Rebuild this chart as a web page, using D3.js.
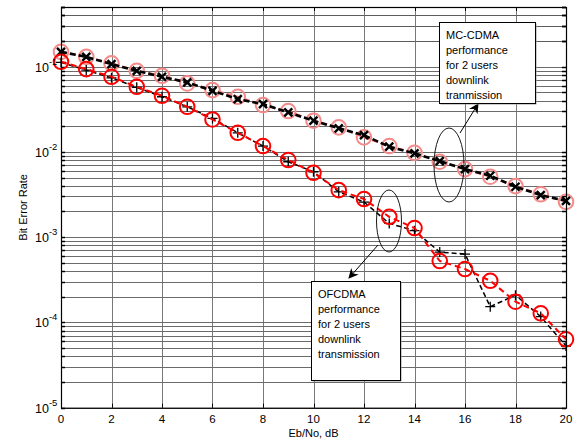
<!DOCTYPE html>
<html>
<head>
<meta charset="utf-8">
<script src="https://cdn.jsdelivr.net/npm/d3@7"></script>
<style>
  body { margin: 0; background: #fff; }
  svg { display: block; font-family: "Liberation Sans", Arial, sans-serif; }
</style>
</head>
<body>
<div id="chart"></div>
<script>
// Eb/No values (dB)
const ebno = d3.range(0, 21)

// MC-CDMA, 2 users downlink (pink circles + black x)
const mcTheory = [0.149, 0.130, 0.109, 0.0893, 0.078, 0.0635, 0.053, 0.0443, 0.0354, 0.0301, 0.0232,
    0.0194, 0.0148, 0.0117, 0.00976, 0.00766, 0.00628, 0.00511, 0.00397, 0.00318, 0.0026]
const mcSim = [0.149, 0.130, 0.107, 0.0893, 0.076, 0.0653, 0.052, 0.0416, 0.0363, 0.029, 0.0232,
    0.0189, 0.0157, 0.0115, 0.0096, 0.0078, 0.00628, 0.00525, 0.0039, 0.00311, 0.00267]

// OFCDMA, 2 users downlink (red circles + black +)
const ofTheory = [0.1138, 0.0935, 0.076, 0.058, 0.0455, 0.0338, 0.024, 0.01675, 0.0117, 0.00802, 0.00569,
    0.00356, 0.0028, 0.00173, 0.00128, 0.000525, 0.000423, 0.000308, 0.000175, 0.000128, 0.0000634]
const ofSim = [0.112, 0.091, 0.0739, 0.0571, 0.0443, 0.0338, 0.0247, 0.01675, 0.0117, 0.00766, 0.00585,
    0.0034, 0.00258, 0.00145, 0.00119, 0.000668, 0.000634, 0.000153, 0.000209, 0.000117, 0.0000529]

const xTicks = d3.range(0, 21, 2)
const yDecades = [-5, -4, -3, -2, -1]

const mcNote = ['MC-CDMA', 'performance', 'for 2 users', 'downlink', 'tranmission']
const ofNote = ['OFCDMA', 'performance', 'for 2 users', 'downlink', 'transmission']

const width = 580, height = 444
const plot = { left: 61, right: 566, top: 7, bottom: 407.7 }

const svg = d3.select('#chart').append('svg')
    .attr('width', width)
    .attr('height', height)

const x = d3.scaleLinear().domain([0, 20]).range([plot.left, plot.right])
const y = d3.scaleLog().domain([1e-5, 0.5]).range([plot.bottom, plot.top])

// grid lines
const minorVals = []
yDecades.forEach(e => {
    for (let k = 1; k <= 9; k++) {
        const v = k * Math.pow(10, e)
        if (v <= 0.5) minorVals.push(v)
    }
})
minorVals.push(0.2, 0.3, 0.4, 0.5)

const grid = svg.append('g')
grid.selectAll('line.h')
    .data(minorVals)
    .join('line')
    .attr('class', 'h')
    .attr('x1', plot.left).attr('x2', plot.right)
    .attr('y1', d => Math.round(y(d)) + 0.5)
    .attr('y2', d => Math.round(y(d)) + 0.5)
    .attr('stroke', '#5a5a5a')
    .attr('stroke-width', 0.9)

grid.selectAll('line.v')
    .data(xTicks)
    .join('line')
    .attr('class', 'v')
    .attr('x1', d => Math.round(x(d)) + 0.5)
    .attr('x2', d => Math.round(x(d)) + 0.5)
    .attr('y1', plot.top).attr('y2', plot.bottom)
    .attr('stroke', '#6a6a6a')
    .attr('stroke-width', 0.9)

// minor tick marks on left and right sides
const ticks = svg.append('g')
minorVals.forEach(v => {
    const yy = Math.round(y(v)) + 0.5
    ticks.append('line').attr('x1', plot.left).attr('x2', plot.left + 4)
        .attr('y1', yy).attr('y2', yy).attr('stroke', '#000').attr('stroke-width', 1.5)
    ticks.append('line').attr('x1', plot.right - 4).attr('x2', plot.right)
        .attr('y1', yy).attr('y2', yy).attr('stroke', '#000').attr('stroke-width', 1.5)
})
xTicks.forEach(t => {
    const xx = Math.round(x(t)) + 0.5
    ticks.append('line').attr('x1', xx).attr('x2', xx)
        .attr('y1', plot.bottom).attr('y2', plot.bottom - 4).attr('stroke', '#000')
    ticks.append('line').attr('x1', xx).attr('x2', xx)
        .attr('y1', plot.top).attr('y2', plot.top + 4).attr('stroke', '#000')
})

// series
const lineGen = d3.line().x((d, i) => x(ebno[i])).y(d => y(d))

function drawLine(data, color, w, dash) {
    svg.append('path')
        .datum(data)
        .attr('d', lineGen)
        .attr('fill', 'none')
        .attr('stroke', color)
        .attr('stroke-width', w)
        .attr('stroke-dasharray', dash)
}

function drawCircles(data, color, w) {
    svg.append('g').selectAll('circle')
        .data(data)
        .join('circle')
        .attr('cx', (d, i) => x(ebno[i]))
        .attr('cy', d => y(d))
        .attr('r', 7.3)
        .attr('fill', 'none')
        .attr('stroke', color)
        .attr('stroke-width', w)
}

function drawCross(data, type, w) {
    const s = 4
    const g = svg.append('g')
    data.forEach((d, i) => {
        const cx = x(ebno[i]), cy = y(d)
        const p = type === 'x'
            ? `M${cx - s},${cy - s}L${cx + s},${cy + s}M${cx - s},${cy + s}L${cx + s},${cy - s}`
            : `M${cx - s - 1},${cy}L${cx + s + 1},${cy}M${cx},${cy - s - 1}L${cx},${cy + s + 1}`
        g.append('path').attr('d', p).attr('stroke', '#000').attr('stroke-width', w)
    })
}

// upper curves
drawLine(mcTheory, '#f07070', 2, '6,3')
drawCircles(mcTheory, '#f58a8a', 2)
drawLine(mcSim, '#000', 2.6, '6,3')
drawCross(mcSim, 'x', 2.4)

// lower curves
drawLine(ofSim, '#000', 1.5, '5,3')
drawCross(ofSim, '+', 1.3)
drawLine(ofTheory, '#ff0000', 2, '6,4')
drawCircles(ofTheory, '#ff0000', 2)

// axes box
svg.append('rect')
    .attr('x', plot.left + 0.5).attr('y', plot.top + 0.5)
    .attr('width', plot.right - plot.left).attr('height', plot.bottom - plot.top)
    .attr('fill', 'none').attr('stroke', '#000').attr('stroke-width', 1.2)

// x tick labels
svg.append('g').selectAll('text')
    .data(xTicks)
    .join('text')
    .attr('x', d => x(d))
    .attr('y', 423)
    .attr('text-anchor', 'middle')
    .attr('font-size', 11.5)
    .text(d => d)

// y tick labels 10^e
yDecades.forEach(e => {
    const t = svg.append('text')
        .attr('x', 35)
        .attr('y', y(Math.pow(10, e)) + 5)
        .attr('font-size', 12.5)
    t.append('tspan').text('10')
    t.append('tspan').attr('dy', -7).attr('font-size', 9.5).text(String(e))
})

// axis titles
svg.append('text')
    .attr('x', (plot.left + plot.right) / 2)
    .attr('y', 437)
    .attr('text-anchor', 'middle')
    .attr('font-size', 11)
    .text('Eb/No, dB')

svg.append('text')
    .attr('transform', `translate(27,${(plot.top + plot.bottom) / 2}) rotate(-90)`)
    .attr('text-anchor', 'middle')
    .attr('font-size', 11)
    .text('Bit Error Rate')

// annotations: ellipses, arrows, text boxes
const defs = svg.append('defs')
defs.append('marker')
    .attr('id', 'head')
    .attr('viewBox', '0 0 10 10')
    .attr('refX', 9).attr('refY', 5)
    .attr('markerWidth', 10).attr('markerHeight', 10)
    .attr('markerUnits', 'userSpaceOnUse')
    .attr('orient', 'auto')
    .append('path')
    .attr('d', 'M0,0L10,5L0,10L3,5Z')
    .attr('fill', '#000')

function note(ell, arrow, box, lines) {
    svg.append('ellipse')
        .attr('cx', ell[0]).attr('cy', ell[1]).attr('rx', ell[2]).attr('ry', ell[3])
        .attr('fill', 'none').attr('stroke', '#000').attr('stroke-width', 0.9)
    svg.append('line')
        .attr('x1', arrow[0]).attr('y1', arrow[1]).attr('x2', arrow[2]).attr('y2', arrow[3])
        .attr('stroke', '#000').attr('stroke-width', 1)
        .attr('marker-end', 'url(#head)')
    svg.append('rect')
        .attr('x', box[0] + 1.5).attr('y', box[1] + 1.5)
        .attr('width', box[2]).attr('height', box[3])
        .attr('fill', '#999')
    svg.append('rect')
        .attr('x', box[0] + 0.5).attr('y', box[1] + 0.5)
        .attr('width', box[2]).attr('height', box[3])
        .attr('fill', '#fff').attr('stroke', '#000').attr('stroke-width', 1)
    svg.append('g').selectAll('text')
        .data(lines)
        .join('text')
        .attr('x', box[0] + 7)
        .attr('y', (d, i) => box[1] + 17 + i * 15)
        .attr('font-size', 11)
        .text(d => d)
}

note([449, 165, 15, 37], [460, 133, 478, 104], [439, 22, 96, 81], mcNote)
note([389, 221, 12.5, 31], [378, 245, 349, 278], [311, 281, 89, 99], ofNote)
</script>
</body>
</html>
